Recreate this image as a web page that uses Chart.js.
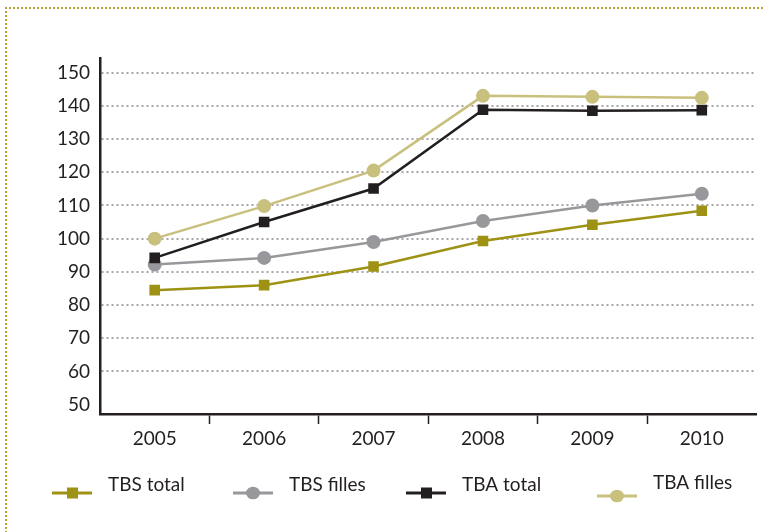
<!DOCTYPE html>
<html>
<head>
    <title>TBS / TBA 2005-2010</title>
    <meta name="viewport" content="width=device-width, initial-scale=1.0">
    <script src="https://cdn.jsdelivr.net/npm/chart.js@4.4.0/dist/chart.umd.min.js"></script>
    <style>
        body { margin: 0; background: #fff; overflow: hidden; }
        #wrap { position: relative; width: 764px; height: 532px; overflow: hidden; }
        /* dotted frame, only top and left edges are visible in the picture */
        #frame {
            position: absolute; left: 5px; top: 7px; width: 900px; height: 700px;
            border-top: 2px dotted #b3a637; border-left: 2px dotted #b3a637;
        }
        #myChart { position: absolute; left: 0; top: 0; }
    </style>
</head>
<body>

<div id="wrap">
    <div id="frame"></div>
    <canvas id="myChart" width="764" height="532"></canvas>
</div>

<script>
// data
const years = ['2005', '2006', '2007', '2008', '2009', '2010'];
const tbsTotal  = [84.5, 86.0, 91.6, 99.3, 104.2, 108.4];
const tbsFilles = [92.2, 94.2, 99.0, 105.3, 110.0, 113.5];
const tbaTotal  = [94.2, 105.0, 115.1, 138.8, 138.5, 138.7];
const tbaFilles = [100.0, 109.8, 120.5, 143.0, 142.7, 142.4];
const yTicks = [50, 60, 70, 80, 90, 100, 110, 120, 130, 140, 150];

const FONT = 'Lato, "Open Sans", sans-serif';
const INK = '#231f20';

const series = [
    { label: 'TBS total',  data: tbsTotal,  color: '#9d9214', style: 'rect' },
    { label: 'TBS filles', data: tbsFilles, color: '#98989c', style: 'circle' },
    { label: 'TBA total',  data: tbaTotal,  color: '#231f20', style: 'rect' },
    { label: 'TBA filles', data: tbaFilles, color: '#c9c07e', style: 'circle' }
];

// legend drawn by hand: line + marker, then text
const legendPlugin = {
    id: 'lineLegend',
    afterDraw(chart) {
        const ctx = chart.ctx;
        const startX = [52, 233, 406, 597];
        ctx.save();
        series.forEach(function(s, i) {
            const x = startX[i];
            const y = i === 3 ? 496 : 493;
            ctx.strokeStyle = s.color;
            ctx.lineWidth = 3;
            ctx.beginPath();
            ctx.moveTo(x, y);
            ctx.lineTo(x + 40, y);
            ctx.stroke();
            ctx.fillStyle = s.color;
            if (s.style === 'rect') {
                ctx.fillRect(x + 15, y - 5.5, 11, 11);
            } else {
                ctx.beginPath();
                ctx.ellipse(x + 20, y, 7, 6.3, 0, 0, Math.PI * 2);
                ctx.fill();
            }
            ctx.fillStyle = INK;
            ctx.font = '19px ' + FONT;
            ctx.textBaseline = 'middle';
            ctx.textAlign = 'left';
            ctx.fillText(s.label, x + 56, i === 3 ? 483 : 485);
        });
        ctx.restore();
    }
};

let ctx = document.getElementById('myChart').getContext('2d');
let myChart = new Chart(ctx, {
    type: 'line',
    data: {
        labels: years,
        datasets: series.map(function(s, i) {
            return {
                label: s.label,
                data: s.data,
                borderColor: s.color,
                backgroundColor: s.color,
                borderWidth: 2.5,
                pointStyle: s.style,
                pointRadius: s.style === 'rect' ? 7.5 : 7,
                pointBorderWidth: 0,
                tension: 0,
                order: 3 - i
            };
        })
    },
    options: {
        responsive: false,
        animation: false,
        layout: { padding: { top: 58, right: 7, left: 0, bottom: 0 } },
        plugins: {
            legend: { display: false },
            tooltip: { enabled: false }
        },
        scales: {
            x: {
                offset: true,
                grid: {
                    offset: true,
                    drawOnChartArea: false,
                    drawTicks: true,
                    tickLength: 10,
                    tickWidth: 1.5,
                    tickColor: c => (c.index >= 1 ? INK : 'rgba(0,0,0,0)')
                },
                border: { color: INK, width: 2.5 },
                ticks: { color: INK, font: { family: FONT, size: 19 }, padding: 3, maxRotation: 0 },
                afterFit: function(scale) { scale.height = 118; }
            },
            y: {
                min: 47.2,
                max: 154.4,
                afterBuildTicks: function(scale) {
                    scale.ticks = yTicks.map(v => ({ value: v }));
                },
                grid: {
                    drawTicks: false,
                    color: c => (c.tick && c.tick.value === 50 ? 'rgba(0,0,0,0)' : '#a5a5a8'),
                    lineWidth: 2
                },
                border: { color: INK, width: 2.5, dash: [2, 3] },
                ticks: { color: INK, font: { family: FONT, size: 19 }, padding: 10 },
                afterFit: function(scale) { scale.width = 100; }
            }
        }
    },
    plugins: [legendPlugin]
});
</script>

</body>
</html>
